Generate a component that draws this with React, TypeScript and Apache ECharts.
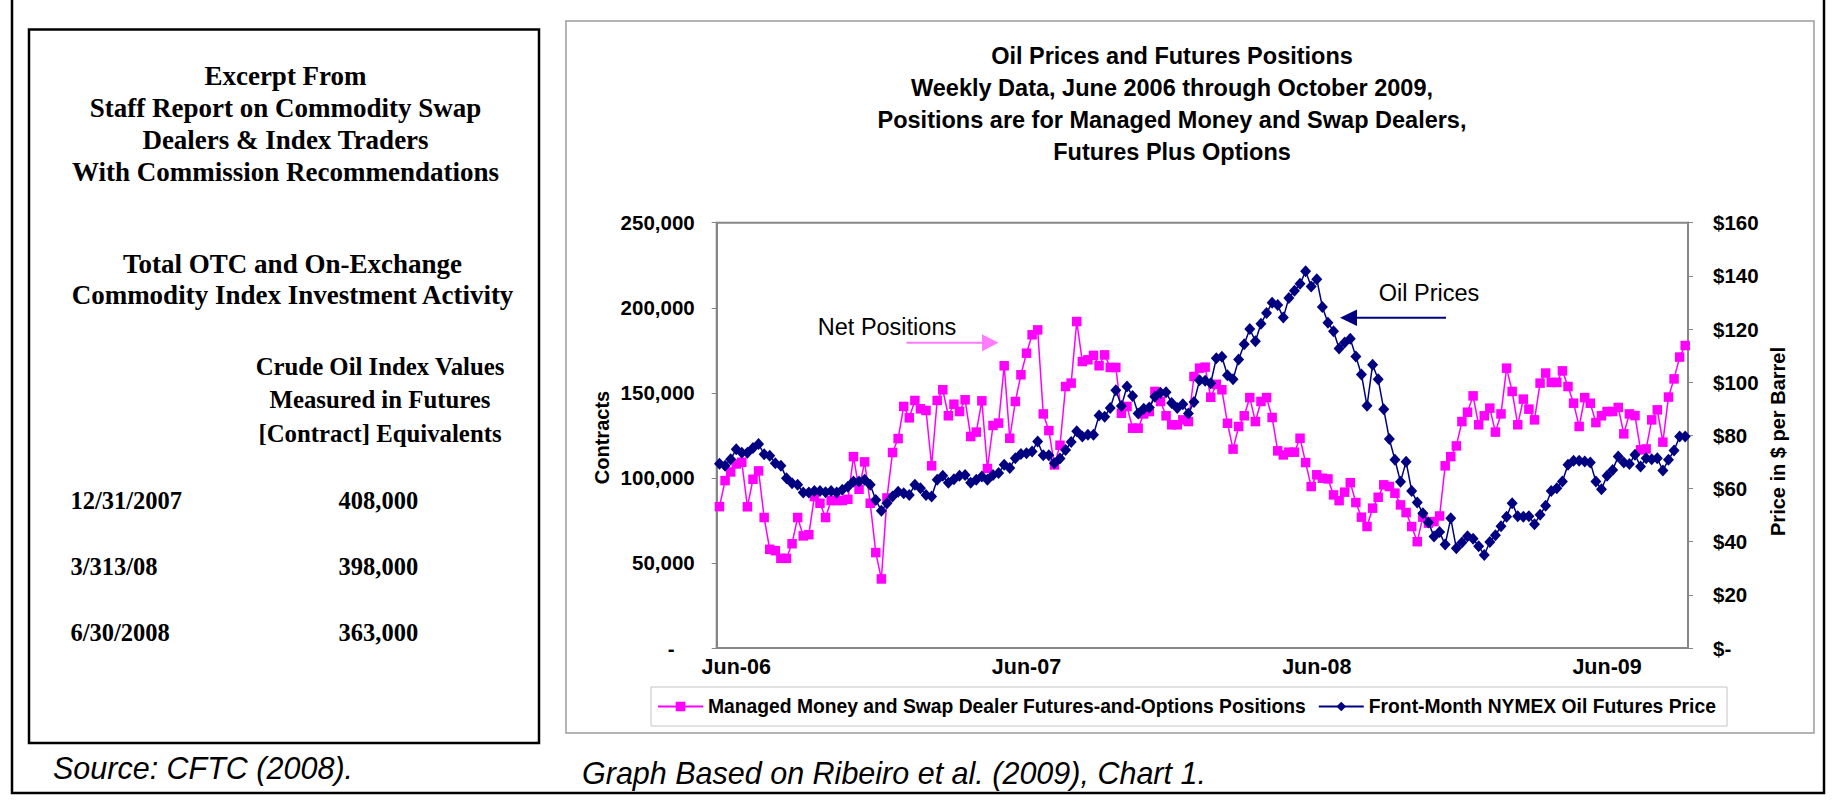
import React, { useEffect, useRef } from "react";
import * as echarts from "echarts";

// Managed Money + Swap Dealer futures-and-options positions (thousands of contracts), weekly
const POSITIONS_K = [
  83.1, 98.4, 103.5, 108.2, 109.2, 83.0, 99.2, 104.1, 76.7, 58.0,
  57.2, 52.7, 52.7, 61.3, 76.7, 65.9, 66.6, 89.0, 85.1, 76.7,
  86.7, 86.7, 86.7, 87.4, 112.5, 93.3, 109.4, 85.1, 56.1, 40.6,
  88.2, 114.9, 123.1, 142.0, 135.3, 145.5, 140.6, 139.6, 107.1, 145.5,
  151.8, 136.5, 143.3, 139.0, 145.9, 124.3, 126.9, 145.3, 105.5, 130.8,
  132.2, 165.9, 123.3, 144.9, 160.6, 173.3, 184.1, 187.0, 137.6, 127.8,
  107.6, 119.2, 153.7, 155.7, 191.9, 168.4, 169.4, 172.0, 165.9, 172.3,
  164.9, 164.9, 138.0, 142.0, 129.2, 129.2, 137.6, 139.0, 150.8, 144.9,
  136.5, 131.2, 131.2, 134.1, 133.1, 159.6, 164.5, 165.1, 147.4, 155.0,
  151.8, 132.1, 116.9, 130.2, 136.5, 147.2, 133.1, 144.9, 147.2, 135.5,
  115.9, 113.5, 115.1, 115.1, 123.3, 109.0, 94.9, 101.8, 99.8, 99.4,
  90.0, 86.6, 91.6, 97.2, 85.5, 76.9, 71.4, 82.2, 88.6, 95.9,
  94.9, 91.0, 84.1, 79.6, 71.4, 62.5, 76.9, 73.4, 74.3, 77.6,
  107.1, 112.5, 118.8, 133.1, 138.6, 148.2, 131.2, 136.5, 141.0, 126.9,
  137.6, 164.5, 150.8, 131.2, 146.3, 140.4, 134.1, 155.7, 161.6, 156.1,
  156.1, 162.9, 153.7, 143.9, 130.2, 147.2, 143.9, 132.5, 136.5, 139.0,
  139.0, 141.4, 125.9, 137.6, 136.6, 116.5, 117.0, 134.1, 140.0, 121.0,
  147.5, 158.2, 171.0, 177.8,
];

// Front-month NYMEX oil futures price ($ per barrel), weekly
const OIL_PRICE = [
  69.3, 68.6, 71.0, 74.8, 73.5, 73.5, 75.2, 76.7, 72.9, 72.3,
  69.5, 68.6, 63.9, 62.0, 61.4, 58.5, 58.5, 59.1, 59.1, 58.6,
  59.1, 58.5, 59.5, 60.7, 62.6, 62.6, 63.3, 61.4, 55.7, 51.6,
  54.5, 57.0, 58.8, 58.2, 57.6, 61.4, 60.1, 57.6, 57.0, 63.3,
  64.8, 62.2, 63.5, 64.8, 65.1, 62.2, 63.3, 64.5, 63.3, 65.1,
  65.8, 68.9, 67.7, 71.4, 73.0, 73.3, 73.9, 77.7, 72.5, 72.5,
  69.5, 71.3, 74.5, 77.5, 81.5, 79.6, 80.2, 80.2, 87.5, 87.0,
  90.3, 97.0, 91.0, 98.4, 94.8, 88.2, 90.0, 90.5, 94.5, 96.0,
  96.2, 92.2, 90.3, 91.7, 88.2, 92.5, 100.7, 100.5, 99.6, 109.0,
  109.6, 102.6, 101.1, 108.5, 114.3, 120.0, 115.4, 122.0, 126.0, 129.9,
  129.0, 124.3, 131.7, 134.4, 137.0, 141.7, 136.0, 138.7, 128.3, 122.4,
  119.2, 112.7, 114.9, 116.3, 109.7, 102.9, 91.1, 106.6, 101.1, 89.8,
  78.6, 70.8, 62.5, 70.1, 59.1, 54.7, 50.7, 47.2, 41.9, 43.6,
  38.9, 48.8, 37.5, 39.7, 42.0, 41.1, 38.3, 35.0, 39.9, 42.4,
  45.8, 49.4, 54.5, 49.6, 49.4, 49.6, 46.6, 50.1, 53.5, 59.1,
  60.1, 62.6, 68.9, 70.4, 70.4, 70.2, 69.8, 62.6, 59.7, 64.8,
  67.0, 72.0, 69.8, 69.2, 72.7, 68.3, 71.4, 71.0, 71.4, 66.8,
  70.8, 74.3, 79.6, 79.6,
];

const WEEKS = POSITIONS_K.map((_, i) => "W" + (i + 1));
const X_TICK_INDEX = [3, 55, 107, 159];
const X_TICK_LABELS = ["Jun-06", "Jun-07", "Jun-08", "Jun-09"];

const SERIES_NAMES = [
  "Managed Money and Swap Dealer Futures-and-Options Positions",
  "Front-Month NYMEX Oil Futures Price",
];

const TITLE_LINES = [
  "Oil Prices and Futures Positions",
  "Weekly Data, June 2006 through October 2009,",
  "Positions are for Managed Money and Swap Dealers,",
  "Futures Plus Options",
];

const BOX_HEAD_LINES = [
  "Excerpt From",
  "Staff Report on Commodity Swap",
  "Dealers & Index Traders",
  "With Commission Recommendations",
];
const BOX_SUB_LINES = ["Total OTC and On-Exchange", "Commodity Index Investment Activity"];
const BOX_COL_LINES = ["Crude Oil Index Values", "Measured in Futures", "[Contract] Equivalents"];
const TABLE_DATES = ["12/31/2007", "3/313/08", "6/30/2008"];
const TABLE_VALUES = ["408,000", "398,000", "363,000"];

const SANS = '"Liberation Sans", Arial, Helvetica, sans-serif';
const SERIF = '"Liberation Serif", "Times New Roman", Times, serif';
const PINK = "#FF00FF";
const NAVY = "#000080";
const AXIS_GREY = "#868686";

function txt(text: string, x: number, y: number, opts: any = {}) {
  return {
    type: "text",
    x,
    y,
    rotation: opts.rotation || 0,
    silent: true,
    style: {
      text,
      x: 0,
      y: 0,
      fill: opts.fill || "#000",
      fontFamily: opts.family || SANS,
      fontSize: opts.size || 19,
      fontWeight: opts.weight || "normal",
      fontStyle: opts.style || "normal",
      textAlign: opts.align || "center",
      textVerticalAlign: "middle",
    },
  };
}

export default function App() {
  const ref = useRef<HTMLDivElement>(null);

  useEffect(() => {
    if (!ref.current) return;
    const chart = echarts.init(ref.current, null, { renderer: "svg" });

    const graphics: any[] = [];
    // outer black border (left, bottom, right)
    graphics.push({ type: "polyline", silent: true, shape: { points: [[12, 0], [12, 793], [1824, 793], [1824, 0]] }, style: { stroke: "#000", lineWidth: 2.5, fill: "none" } });
    // left text box
    graphics.push({ type: "rect", silent: true, shape: { x: 29, y: 29.5, width: 510, height: 713.5 }, style: { stroke: "#000", lineWidth: 2.5, fill: "none" } });
    // chart frame
    graphics.push({ type: "rect", silent: true, shape: { x: 566, y: 21, width: 1248, height: 712 }, style: { stroke: "#9c9c9c", lineWidth: 1.5, fill: "none" } });
    // legend frame
    graphics.push({ type: "rect", silent: true, shape: { x: 651, y: 687, width: 1076, height: 39 }, style: { stroke: "#c4c4c4", lineWidth: 1, fill: "none" } });

    BOX_HEAD_LINES.forEach((t, i) => graphics.push(txt(t, 285.5, 76 + i * 31.9, { family: SERIF, weight: "bold", size: 27 })));
    BOX_SUB_LINES.forEach((t, i) => graphics.push(txt(t, 292.5, 263.5 + i * 31.7, { family: SERIF, weight: "bold", size: 27 })));
    BOX_COL_LINES.forEach((t, i) => graphics.push(txt(t, 380, 366.5 + i * 33.3, { family: SERIF, weight: "bold", size: 24.8 })));
    TABLE_DATES.forEach((t, i) => graphics.push(txt(t, 70.5, 500 + i * 66, { family: SERIF, weight: "bold", size: 24.5, align: "left" })));
    TABLE_VALUES.forEach((t, i) => graphics.push(txt(t, 338.5, 500 + i * 66, { family: SERIF, weight: "bold", size: 24.5, align: "left" })));

    graphics.push(txt("Source: CFTC (2008).", 53, 768, { size: 30.5, style: "italic", align: "left" }));
    graphics.push(txt("Graph Based on Ribeiro et al. (2009), Chart 1.", 582, 773, { size: 30.5, style: "italic", align: "left" }));

    TITLE_LINES.forEach((t, i) => graphics.push(txt(t, 1172, 56 + i * 32, { weight: "bold", size: 23.5 })));

    graphics.push(txt("Contracts", 602, 437.5, { weight: "bold", size: 20, rotation: Math.PI / 2 }));
    graphics.push(txt("Price in $ per Barrel", 1778, 441.5, { weight: "bold", size: 20, rotation: Math.PI / 2 }));

    // annotations
    graphics.push(txt("Net Positions", 887, 326.5, { size: 23.5 }));
    graphics.push({ type: "line", silent: true, shape: { x1: 906.5, y1: 342.7, x2: 984, y2: 342.7 }, style: { stroke: "#FF7CFF", lineWidth: 2 } });
    graphics.push({ type: "polygon", silent: true, shape: { points: [[982, 334.2], [998.5, 342.7], [982, 351.2]] }, style: { fill: "#FF7CFF" } });
    graphics.push(txt("Oil Prices", 1429, 292.7, { size: 23.5 }));
    graphics.push({ type: "line", silent: true, shape: { x1: 1446, y1: 317.7, x2: 1354, y2: 317.7 }, style: { stroke: NAVY, lineWidth: 2 } });
    graphics.push({ type: "polygon", silent: true, shape: { points: [[1357, 309.4], [1340, 317.7], [1357, 326]] }, style: { fill: NAVY } });

    const labelStyle = { fontFamily: SANS, fontWeight: "bold", fontSize: 20.5, color: "#000" };

    const option: any = {
      animation: false,
      backgroundColor: "#fff",
      grid: {
        left: 716.7,
        right: 154,
        top: 222.7,
        bottom: 162,
        containLabel: false,
        outerBoundsMode: "none",
        show: true,
        borderColor: AXIS_GREY,
        borderWidth: 2,
        backgroundColor: "transparent",
      },
      legend: {
        left: 657,
        top: 697,
        padding: 0,
        itemWidth: 45,
        itemHeight: 12,
        itemGap: 12,
        data: SERIES_NAMES,
        textStyle: { fontFamily: SANS, fontWeight: "bold", fontSize: 19.3, color: "#000" },
        selectedMode: false,
      },
      xAxis: {
        type: "category",
        data: WEEKS,
        boundaryGap: true,
        axisLine: { show: true, lineStyle: { color: AXIS_GREY, width: 2 } },
        axisTick: { show: false },
        splitLine: { show: false },
        axisLabel: {
          ...labelStyle,
          fontSize: 21.5,
          margin: 8,
          interval: (index: number) => X_TICK_INDEX.indexOf(index) >= 0,
          formatter: (_v: string, index: number) => {
            const k = X_TICK_INDEX.indexOf(index);
            return k >= 0 ? X_TICK_LABELS[k] : "";
          },
        },
      },
      yAxis: [
        {
          type: "value",
          min: 0,
          max: 250,
          interval: 50,
          position: "left",
          axisLine: { show: true, lineStyle: { color: AXIS_GREY, width: 2 } },
          axisTick: { show: true, length: 5, lineStyle: { color: AXIS_GREY, width: 1 } },
          splitLine: { show: false },
          axisLabel: {
            ...labelStyle,
            margin: 22,
            formatter: (v: number) => (v === 0 ? "{z|-}" : (v * 1000).toLocaleString("en-US")),
            rich: { z: { ...labelStyle, padding: [0, 20, 0, 0] } },
          },
        },
        {
          type: "value",
          min: 0,
          max: 160,
          interval: 20,
          position: "right",
          axisLine: { show: true, lineStyle: { color: AXIS_GREY, width: 2 } },
          axisTick: { show: true, length: 5, lineStyle: { color: AXIS_GREY, width: 1 } },
          splitLine: { show: false },
          axisLabel: {
            ...labelStyle,
            margin: 25,
            formatter: (v: number) => (v === 0 ? "$-" : "$" + v),
          },
        },
      ],
      series: [
        {
          name: SERIES_NAMES[0],
          type: "line",
          yAxisIndex: 0,
          data: POSITIONS_K,
          symbol: "rect",
          symbolSize: 9.5,
          showSymbol: true,
          showAllSymbol: true,
          lineStyle: { color: PINK, width: 1.5 },
          itemStyle: { color: PINK },
          z: 2,
        },
        {
          name: SERIES_NAMES[1],
          type: "line",
          yAxisIndex: 1,
          data: OIL_PRICE,
          symbol: "diamond",
          symbolSize: [11, 12],
          showSymbol: true,
          showAllSymbol: true,
          lineStyle: { color: NAVY, width: 1.5 },
          itemStyle: { color: NAVY },
          z: 3,
        },
      ],
      graphic: { elements: graphics },
    };

    chart.setOption(option);
    return () => chart.dispose();
  }, []);

  return (
    <div
      ref={ref}
      style={{ position: "absolute", left: 0, top: 0, width: 1842, height: 810, background: "#fff" }}
    />
  );
}
